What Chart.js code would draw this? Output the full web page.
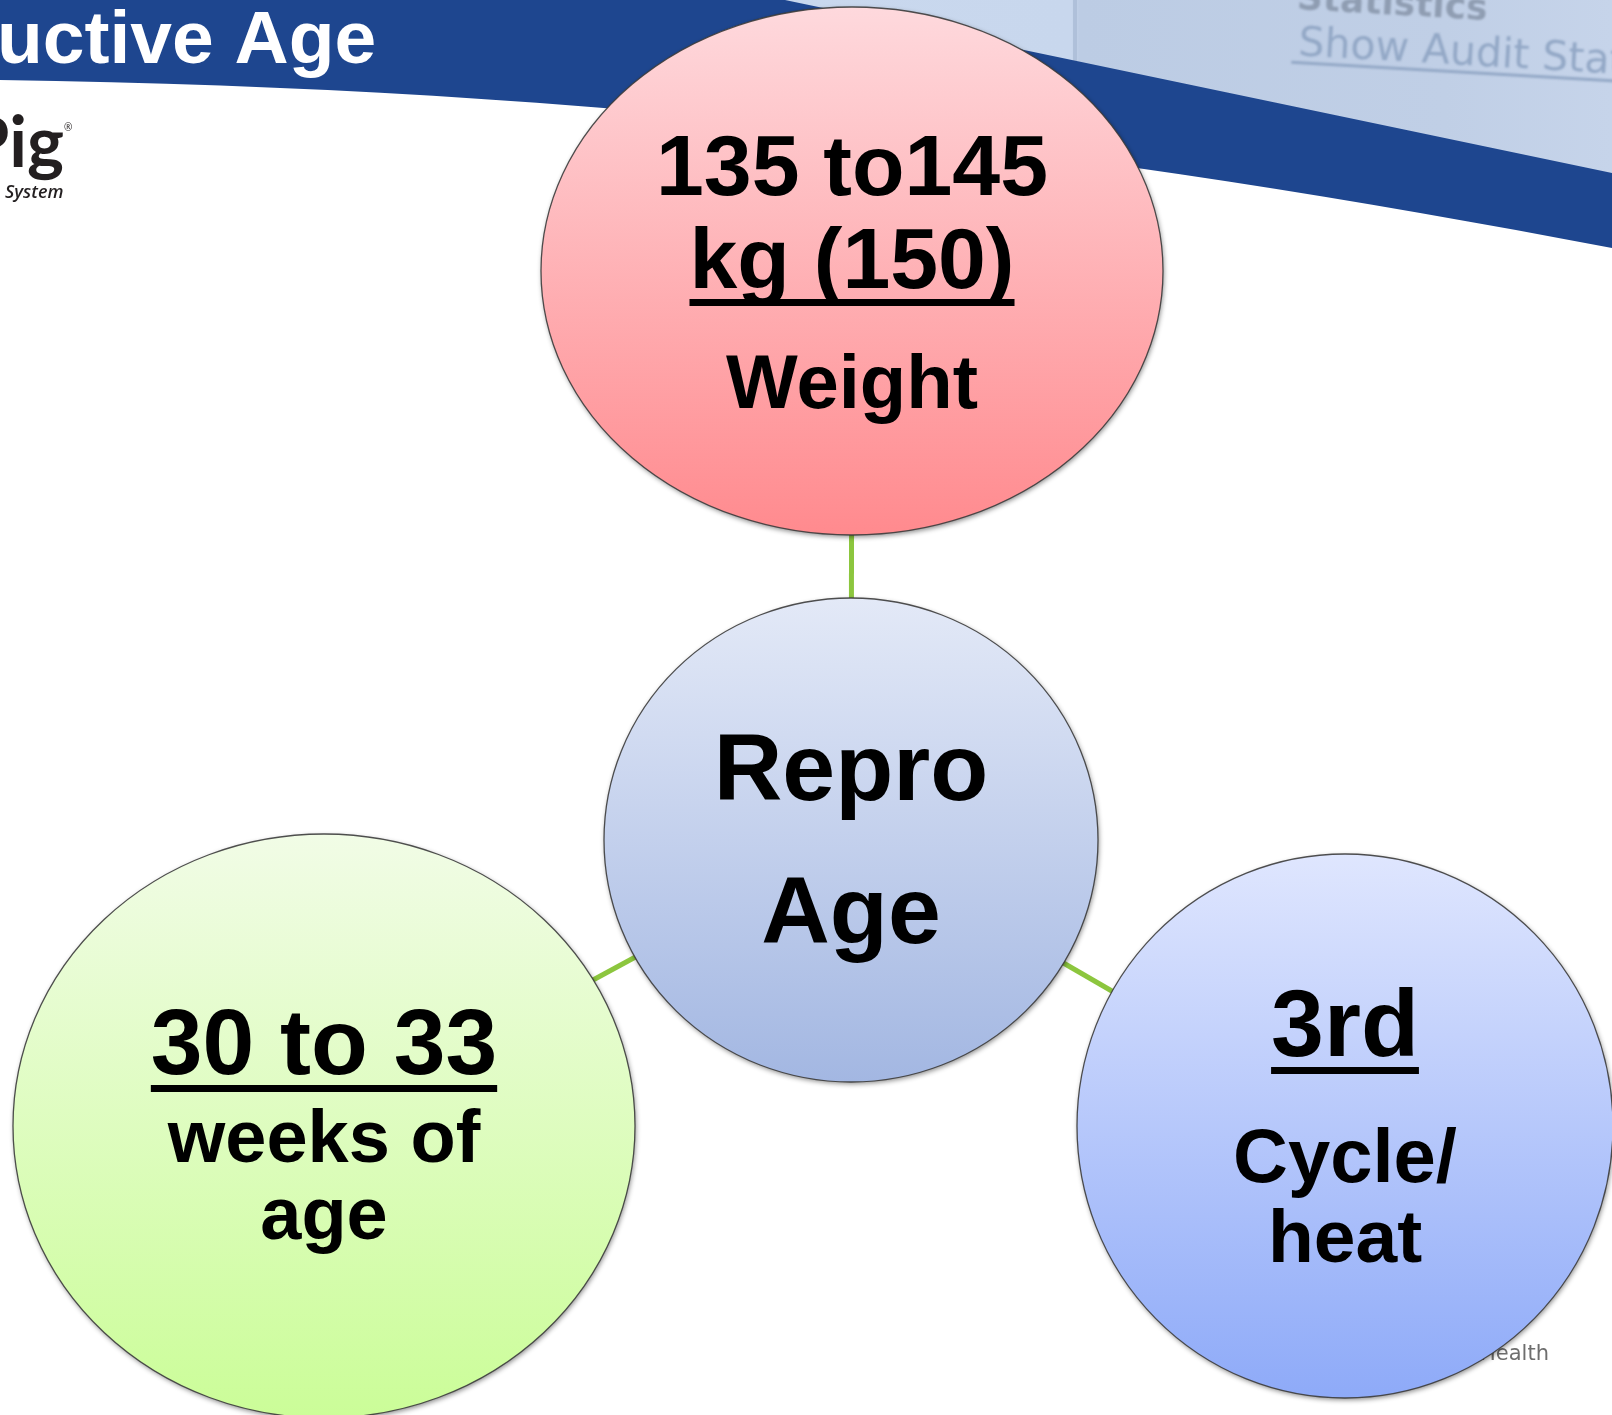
<!DOCTYPE html>
<html><head><meta charset="utf-8">
<script src="https://cdn.jsdelivr.net/npm/chart.js@4.4.0/dist/chart.umd.min.js"></script>
<style>html,body{margin:0;padding:0;background:#fff;overflow:hidden}canvas{display:block}</style>
</head><body>
<canvas id="c" width="1612" height="1415"></canvas>
<script>
// ---- data ----
const nodeNames = ["Weight", "Repro Age", "Age", "Cycle"];
const nodeX = [852, 851, 324, 1345];
const nodeY = [271, 840, 1126, 1126];
const nodeRx = [311, 247, 311, 268];
const nodeRy = [264, 242, 292, 272];
const nodeLines = [
  ["135 to145", "kg (150)", "Weight"],
  ["Repro", "Age"],
  ["30 to 33", "weeks of", "age"],
  ["3rd", "Cycle/", "heat"]
];
const links = [[1, 0], [1, 2], [1, 3]];
const titleText = "uctive Age";
const logoText = "Pig";
const logoSub = "System";
const shotTexts = ["Statistics", "Show Audit Statistics"];
const footerText = "Health";

// ---- styles ----
const lineSizes = [[86, 86, 76], [95, 95], [93, 74, 74], [95, 76, 75]];
const lineOffsets = [[-76, 17, 137], [-40, 103], [-52, 36, 113], [-70, 56, 136]];
const lineUnderline = [[false, true, false], [false, false], [true, false, false], [true, false, false]];
const topColors = ["#fed9dd", "#e3e9f7", "#f1fce6", "#dfe6fe"];
const bottomColors = ["#ff8a8e", "#a3b7e2", "#cbfd98", "#8eaaf8"];
const FONT = "'Liberation Sans', Arial, sans-serif";

const bgPlugin = {
  id: 'bg',
  beforeDatasetsDraw(chart) {
    const ctx = chart.ctx;
    ctx.save();
    ctx.fillStyle = '#ffffff';
    ctx.fillRect(0, 0, chart.width, chart.height);
    // screenshot region (top right)
    ctx.save();
    ctx.beginPath();
    ctx.moveTo(770, 0); ctx.lineTo(1612, 0); ctx.lineTo(1612, 180); ctx.closePath();
    const sg = ctx.createLinearGradient(780, 0, 1612, 0);
    sg.addColorStop(0, '#c9d8ee');
    sg.addColorStop(0.35, '#c8d7ed');
    sg.addColorStop(0.36, '#bccce4');
    sg.addColorStop(0.8, '#c0cfe6');
    sg.addColorStop(1, '#c6d4ea');
    ctx.fillStyle = sg; ctx.fill();
    ctx.clip();
    ctx.fillStyle = 'rgba(170,188,214,0.8)';
    ctx.fillRect(1073, 0, 4, 200);
    ctx.filter = 'blur(1.1px)';
    ctx.translate(1296, 17);
    ctx.rotate(3.3 * Math.PI / 180);
    ctx.font = "bold 36px 'DejaVu Sans', sans-serif";
    ctx.fillStyle = '#8f9db2';
    ctx.textBaseline = 'alphabetic';
    ctx.fillText(shotTexts[0], 0, -8);
    ctx.font = "41px 'DejaVu Sans', sans-serif";
    ctx.fillStyle = '#93a8c6';
    ctx.fillText(shotTexts[1], 4, 38);
    ctx.fillRect(-2, 44, 600, 3);
    ctx.restore();
    // dark blue swoosh
    ctx.beginPath();
    ctx.moveTo(0, 0);
    ctx.lineTo(785, 0);
    ctx.lineTo(1612, 173);
    ctx.lineTo(1612, 248);
    ctx.bezierCurveTo(1100, 150, 600, 88, 0, 80);
    ctx.closePath();
    ctx.fillStyle = '#1e468f';
    ctx.fill();
    // title
    ctx.fillStyle = '#ffffff';
    ctx.font = "bold 75px " + FONT;
    ctx.textAlign = 'left';
    ctx.fillText(titleText, -3, 63);
    // logo
    ctx.fillStyle = '#231f20';
    ctx.font = "bold 70px Lato, sans-serif";
    ctx.textAlign = 'right';
    ctx.fillText(logoText, 64, 167);
    ctx.font = "10px 'Open Sans', sans-serif";
    ctx.textAlign = 'left';
    ctx.fillText("\u00AE", 64, 131);
    ctx.font = "italic 600 18px 'Open Sans', sans-serif";
    ctx.fillText(logoSub, 5, 198);
    // footer text
    ctx.fillStyle = '#6e6e6e';
    ctx.font = "21px 'DejaVu Sans', sans-serif";
    ctx.textAlign = 'right';
    ctx.fillText(footerText, 1549, 1360);
    ctx.restore();
  }
};

const nodePlugin = {
  id: 'nodes',
  afterDatasetsDraw(chart) {
    const ctx = chart.ctx, xs = chart.scales.x, ys = chart.scales.y;
    for (let i = 0; i < nodeX.length; i++) {
      const cx = xs.getPixelForValue(nodeX[i]);
      const cy = ys.getPixelForValue(nodeY[i]);
      const rx = Math.abs(xs.getPixelForValue(nodeX[i] + nodeRx[i]) - cx);
      const ry = Math.abs(ys.getPixelForValue(nodeY[i] + nodeRy[i]) - cy);
      ctx.save();
      const g = ctx.createLinearGradient(0, cy - ry, 0, cy + ry);
      g.addColorStop(0, topColors[i]);
      g.addColorStop(1, bottomColors[i]);
      ctx.shadowColor = 'rgba(0,0,0,0.45)';
      ctx.shadowBlur = 5; ctx.shadowOffsetX = 1; ctx.shadowOffsetY = 2;
      ctx.beginPath();
      ctx.ellipse(cx, cy, rx, ry, 0, 0, Math.PI * 2);
      ctx.fillStyle = g; ctx.fill();
      ctx.shadowColor = 'transparent';
      ctx.lineWidth = 1.3; ctx.strokeStyle = 'rgba(60,60,60,0.9)';
      ctx.stroke();
      ctx.fillStyle = '#000';
      ctx.textAlign = 'center';
      ctx.textBaseline = 'alphabetic';
      nodeLines[i].forEach((t, j) => {
        const sz = lineSizes[i][j];
        ctx.font = "bold " + sz + "px " + FONT;
        const by = cy + lineOffsets[i][j];
        ctx.fillText(t, cx, by);
        if (lineUnderline[i][j]) {
          const w = ctx.measureText(t).width;
          ctx.fillRect(cx - w / 2, by + 11, w, 7);
        }
      });
      ctx.restore();
    }
  }
};

new Chart(document.getElementById('c'), {
  type: 'scatter',
  data: {
    datasets: links.map(([a, b]) => ({
      label: nodeNames[a] + '-' + nodeNames[b],
      data: [{ x: nodeX[a], y: nodeY[a] }, { x: nodeX[b], y: nodeY[b] }],
      showLine: true,
      borderColor: '#8cc63e',
      borderWidth: 5,
      pointRadius: 0,
      fill: false
    }))
  },
  options: {
    responsive: false,
    animation: false,
    devicePixelRatio: 1,
    events: [],
    layout: { padding: 0 },
    plugins: { legend: { display: false }, tooltip: { enabled: false } },
    scales: {
      x: { type: 'linear', min: 0, max: 1612, display: false },
      y: { type: 'linear', min: 0, max: 1415, reverse: true, display: false }
    }
  },
  plugins: [bgPlugin, nodePlugin]
});
</script>
</body></html>
